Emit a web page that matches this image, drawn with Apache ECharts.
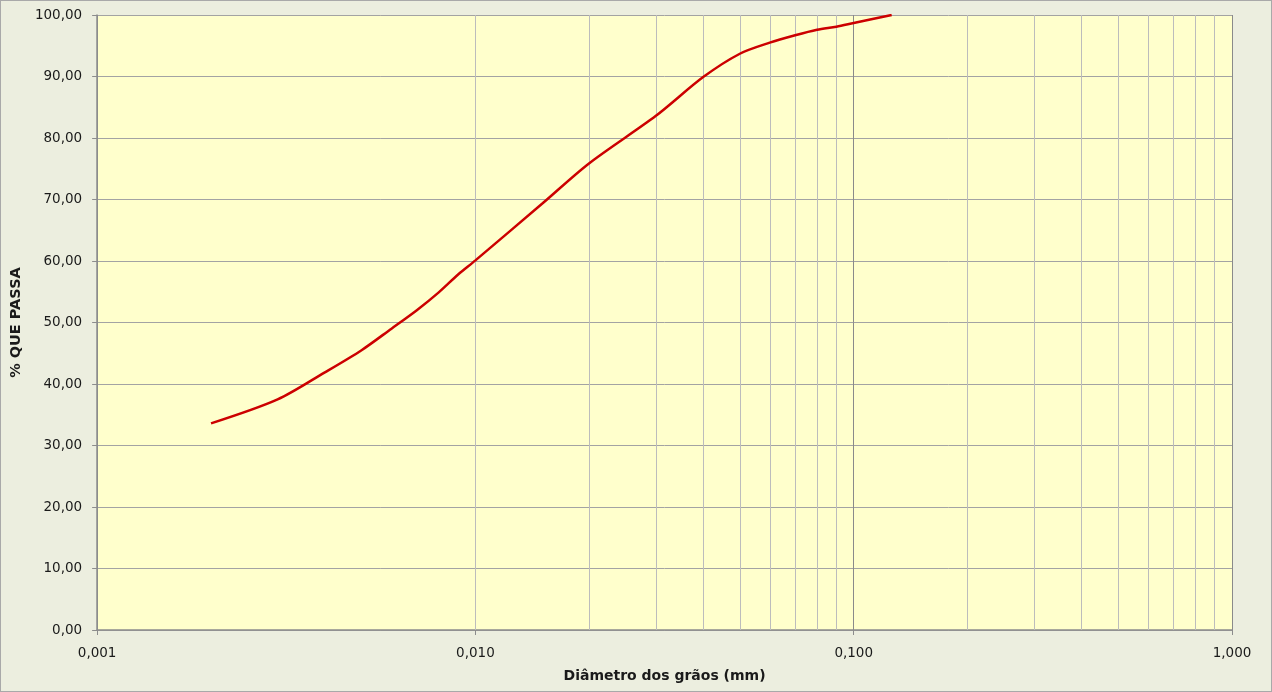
<!DOCTYPE html>
<html>
<head>
<meta charset="utf-8">
<script src="https://cdn.jsdelivr.net/npm/echarts@6/dist/echarts.min.js"></script>
<style>
  html, body { margin: 0; padding: 0; background: #eceedf; }
  #chart { width: 1270px; height: 690px; border: 1px solid #a9a9a9; background: #eceedf; }
</style>
</head>
<body>
<div id="chart"></div>
<script>
// diâmetro dos grãos (mm) e % que passa
const diameters = [0.002, 0.003, 0.004, 0.005, 0.006, 0.007, 0.008, 0.009, 0.01, 0.015,
  0.02, 0.03, 0.04, 0.05, 0.06, 0.07, 0.08, 0.09, 0.1, 0.126];
const passing = [33.6, 37.5, 41.9, 45.5, 49.0, 52.0, 54.9, 57.8, 60.1, 69.3,
  75.9, 83.6, 89.9, 93.7, 95.5, 96.7, 97.6, 98.1, 98.7, 100];

// linhas secundárias da escala log (2..9 em cada década)
const decades = [0.001, 0.01, 0.1];
const multipliers = [2, 3, 4, 5, 6, 7, 8, 9];

const chart = echarts.init(document.getElementById("chart"));

const minorLines = [];
decades.forEach((d) => {
  multipliers.forEach((m) => {
    minorLines.push({ xAxis: +(d * m).toPrecision(3) });
  });
});

const fontFamily = "DejaVu Sans";

chart.setOption({
  animation: false,
  grid: { left: 95, right: 39, top: 14, bottom: 61, show: true, backgroundColor: "#ffffcc", borderWidth: 0 },
  xAxis: {
    type: "log",
    logBase: 10,
    min: 0.001,
    max: 1,
    name: "Diâmetro dos grãos (mm)",
    nameLocation: "middle",
    nameGap: 39,
    nameTextStyle: { fontFamily, fontWeight: "bold", fontSize: 14, color: "#1a1a1a" },
    axisLine: { lineStyle: { color: "#8c8c8c", width: 1.5 } },
    axisTick: { show: true, length: 5, lineStyle: { color: "#8c8c8c" } },
    axisLabel: {
      fontFamily, fontSize: 13.5, color: "#1a1a1a", margin: 16,
      formatter: (v) => v.toFixed(3).replace(".", ","),
    },
    splitLine: { show: true, lineStyle: { color: "#8a8a8a", width: 1 } },
  },
  yAxis: {
    type: "value",
    min: 0,
    max: 100,
    interval: 10,
    name: "% QUE PASSA",
    nameLocation: "middle",
    nameGap: 68,
    nameTextStyle: { fontFamily, fontWeight: "bold", fontSize: 14.5, color: "#1a1a1a" },
    axisLine: { show: true, lineStyle: { color: "#8c8c8c", width: 1.5 } },
    axisTick: { show: true, length: 5, lineStyle: { color: "#8c8c8c" } },
    axisLabel: {
      fontFamily, fontSize: 13.5, color: "#1a1a1a", margin: 15,
      formatter: (v) => v.toFixed(2).replace(".", ","),
    },
    splitLine: { show: true, lineStyle: { color: "#a3a3a3", width: 1 } },
  },
  series: [
    {
      type: "line",
      data: diameters.map((d, i) => [d, passing[i]]),
      smooth: 0.3,
      showSymbol: false,
      lineStyle: { color: "#cc0000", width: 2.5 },
      z: 3,
      markLine: {
        silent: true,
        symbol: ["none", "none"],
        label: { show: false },
        lineStyle: { color: "#bcbcbc", width: 1, type: "solid" },
        data: minorLines,
        z: 1,
      },
    },
  ],
});
</script>
</body>
</html>
